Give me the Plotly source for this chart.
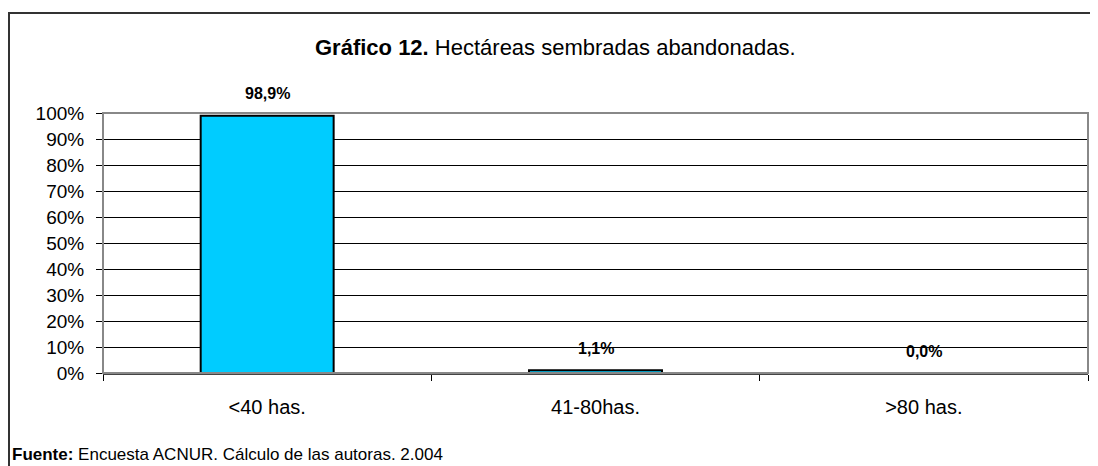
import plotly.graph_objects as go

# Hectáreas sembradas abandonadas
categorias = ["<40 has.", "41-80has.", ">80 has."]
porcentajes = [98.9, 1.1, 0.0]
etiquetas = ["98,9%", "1,1%", "0,0%"]
ticks_y = [0, 10, 20, 30, 40, 50, 60, 70, 80, 90, 100]
ticks_y_txt = [f"{v}%" for v in ticks_y]

# the page body adds an 8px margin, so the figure is drawn 8px smaller
W, H = 1090, 458
L, R, T, B = 95, 10, 105, 93
ph = H - T - B
pw = W - L - R

fig = go.Figure()

fig.add_trace(go.Bar(
    x=categorias,
    y=porcentajes,
    marker=dict(color="#00CCFF", line=dict(color="#000000", width=2)),
    hoverinfo="x+y",
))

# data labels
for c, v, t in zip(categorias, porcentajes, etiquetas):
    fig.add_annotation(
        x=c, y=v, text=f"<b>{t}</b>", showarrow=False,
        yanchor="middle", yshift=22,
        font=dict(size=16, color="#000000"),
    )

# title
fig.add_annotation(
    xref="paper", yref="paper", x=(547 - L) / pw, y=(H - B - 39) / ph,
    text="<b>Gráfico 12.</b> Hectáreas sembradas abandonadas.",
    showarrow=False, xanchor="center", yanchor="middle",
    font=dict(size=22, color="#000000"),
)

# source
fig.add_annotation(
    xref="paper", yref="paper", x=(2 - L) / pw, y=(H - B - 446) / ph,
    text="<b>Fuente:</b> Encuesta ACNUR. Cálculo de las autoras. 2.004",
    showarrow=False, xanchor="left", yanchor="middle",
    font=dict(size=17, color="#000000"),
)

# outer frame (runs off the right and bottom edges)
fig.add_shape(
    type="rect", xref="paper", yref="paper",
    x0=(1 - L) / pw, x1=1.2, y0=-1.0, y1=(H - B - 5) / ph,
    line=dict(color="#333333", width=2), fillcolor="rgba(0,0,0,0)",
    layer="below",
)

# plot area frame
fig.add_shape(
    type="rect", xref="x domain", yref="y domain",
    x0=0, x1=1, y0=0, y1=1,
    line=dict(color="#888888", width=2), layer="above",
)

fig.update_layout(
    width=W, height=H,
    margin=dict(l=L, r=R, t=T, b=B),
    paper_bgcolor="#ffffff",
    plot_bgcolor="#ffffff",
    font=dict(family="Liberation Sans, Arial, sans-serif", size=18, color="#000000"),
    bargap=0.595,
    showlegend=False,
    xaxis=dict(
        ticks="outside", tickson="boundaries", ticklen=6,
        tickcolor="#000000", showgrid=False,
        showline=True, linecolor="#444444", linewidth=2,
        tickfont=dict(size=20), ticklabelstandoff=15,
    ),
    yaxis=dict(
        range=[0, 100], tickvals=ticks_y, ticktext=ticks_y_txt,
        ticks="outside", ticklen=6, tickcolor="#000000",
        showgrid=True, gridcolor="#000000", gridwidth=1,
        zeroline=False, showline=False,
        tickfont=dict(size=19), ticklabelstandoff=8,
    ),
)

fig.write_html("out.html")
